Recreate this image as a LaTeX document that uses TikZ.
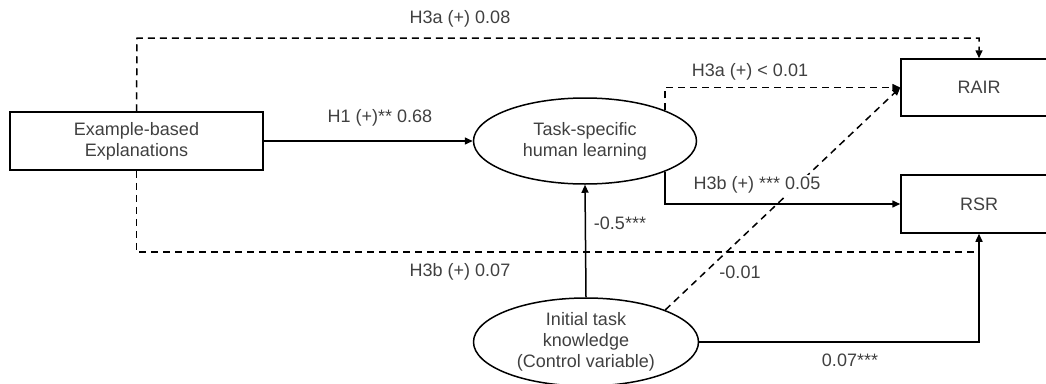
\documentclass[tikz,border=0pt]{standalone}
\usepackage{fontspec}
\setmainfont{Liberation Sans}
\usetikzlibrary{arrows.meta,shapes.geometric}

\definecolor{labelgray}{HTML}{404040}

\tikzset{
  txt/.style={text=labelgray, font=\fontsize{18}{21}\selectfont, align=center},
  boxnode/.style={txt, draw=black, line width=1.5pt, rectangle, inner sep=0pt},
  ellnode/.style={txt, draw=black, line width=1.5pt, ellipse, inner sep=0pt},
  link/.style={draw=black, line width=1.5pt},
  dashedlink/.style={link, dash pattern=on 7pt off 5pt},
  tip/.style={-{Triangle[length=8pt,width=7pt]}},
  lbl/.style={txt, inner sep=0pt},
  masklbl/.style={lbl, fill=white, inner sep=2pt}
}

\begin{document}
\begin{tikzpicture}[x=1pt, y=-1pt]
  \useasboundingbox (0,0) rectangle (1046,383);
  \clip (0,0) rectangle (1046,383);

  % constructs
  \node[boxnode, minimum width=253pt, minimum height=58pt] (ex) at (136.5,141)
    {Example-based\\Explanations};
  \node[ellnode, minimum width=223pt, minimum height=86pt] (task) at (585,141)
    {Task-specific\\human learning};
  \node[boxnode, minimum width=156pt, minimum height=57pt] (rair) at (979,87.5) {RAIR};
  \node[boxnode, minimum width=156pt, minimum height=58pt] (rsr) at (979,204) {RSR};
  \node[ellnode, minimum width=225pt, minimum height=88pt] (init) at (586,342)
    {Initial task\\knowledge\\(Control variable)};

  % routing points
  \coordinate (topleft) at (137,38);
  \coordinate (botright) at (979,252);

  % direct paths
  \draw[dashedlink, tip] (ex.north) -- (topleft) -| (rair.north);
  \draw[link, tip] (ex.east) -- (task.west);
  \draw[dashedlink] (ex.south) |- (botright);

  % mediator paths
  \draw[dashedlink, tip] (task.21.5) |- (rair.west);
  \draw[link, tip] (task.-21.5) |- (rsr.west);

  % control variable paths
  \draw[link, tip] (init.north) -- (task.south);
  \draw[dashedlink, tip] (init.22) -- (rair.west);
  \draw[link, tip] (init.east) -| (rsr.south);

  % path coefficients
  \node[lbl] (l1) at (460,19) {H3a (+) 0.08};
  \node[lbl] (l2) at (380,118) {H1 (+)** 0.68};
  \node[lbl] (l3) at (750,72) {H3a (+) < 0.01};
  \node[masklbl] (l4) at (757,185) {H3b (+) *** 0.05};
  \node[lbl] (l5) at (620,223) {-0.5***};
  \node[lbl] (l6) at (460,272) {H3b (+) 0.07};
  \node[lbl] (l7) at (740,272) {-0.01};
  \node[lbl] (l8) at (850,360) {0.07***};
\end{tikzpicture}
\end{document}
